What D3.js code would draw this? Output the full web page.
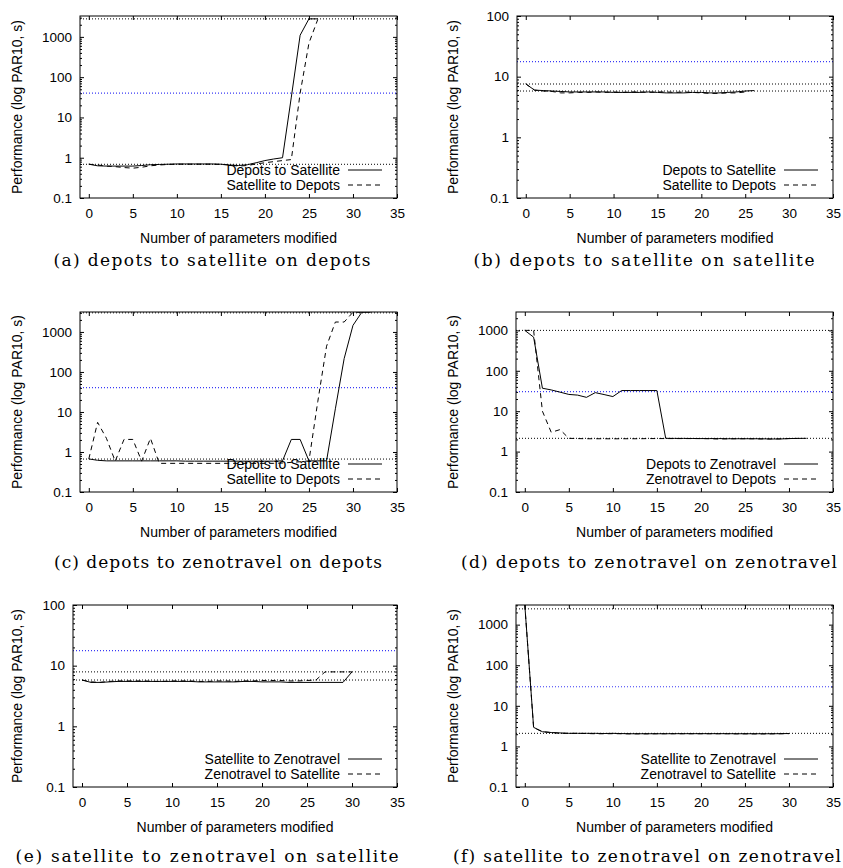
<!DOCTYPE html>
<html>
<head>
<meta charset="utf-8">
<script src="https://cdn.jsdelivr.net/npm/d3@7"></script>
<style>
body{margin:0;background:#fff}
svg text{font-family:"Liberation Sans",Arial,Helvetica,sans-serif;fill:#000}
svg text.cap{font-family:"DejaVu Serif","Liberation Serif",serif}
</style>
</head>
<body>
<svg id="fig" width="843" height="868"></svg>
<script>
// ── Axes ────────────────────────────────────────────────────────────────
var X_TICKS=[0,5,10,15,20,25,30,35];
var Y_TICKS=[0.1,1,10,100,1000];
var Y_TICK_LABELS=["0.1","1","10","100","1000"];
var X_LABEL="Number of parameters modified";
var Y_LABEL="Performance (log PAR10, s)";

// ── (a) depots to satellite on depots ───────────────────────────────────
var A_SOLID=[0.69,0.63,0.62,0.62,0.62,0.62,0.64,0.67,0.68,0.69,0.70,0.70,0.70,0.70,0.70,0.69,0.66,0.64,0.67,0.75,0.85,0.93,1.0,32,1100,2800,2800];
var A_DASH=[0.69,0.66,0.62,0.60,0.57,0.55,0.58,0.63,0.66,0.68,0.69,0.69,0.69,0.69,0.69,0.68,0.66,0.62,0.64,0.70,0.75,0.80,0.85,0.90,40,700,2700];
var A_REF=[2800,0.687];
var A_BLUE=40;
var A_LEG=["Depots to Satellite","Satellite to Depots"];

// ── (b) depots to satellite on satellite ────────────────────────────────
var B_SOLID=[7.6,6.0,5.9,5.8,5.7,5.6,5.6,5.6,5.6,5.6,5.5,5.5,5.5,5.5,5.6,5.5,5.4,5.4,5.4,5.5,5.5,5.4,5.4,5.5,5.6,5.8,5.9];
var B_DASH=[7.6,6.0,5.8,5.7,5.4,5.4,5.5,5.5,5.6,5.5,5.6,5.5,5.6,5.6,5.5,5.6,5.6,5.5,5.6,5.5,5.4,5.3,5.3,5.4,5.4,5.6];
var B_REF=[7.57,5.8];
var B_BLUE=17.7;
var B_LEG=["Depots to Satellite","Satellite to Depots"];

// ── (c) depots to zenotravel on depots ──────────────────────────────────
var C_SOLID=[0.67,0.62,0.60,0.60,0.60,0.60,0.60,0.60,0.60,0.60,0.60,0.59,0.59,0.59,0.59,0.59,0.59,0.59,0.59,0.59,0.59,0.59,0.60,2.06,2.06,0.60,0.60,0.60,12,216,1460,3100,3100];
var C_DASH=[0.67,5.5,2.2,0.59,2.06,2.06,0.59,2.2,0.52,0.52,0.52,0.52,0.52,0.52,0.52,0.52,0.52,0.52,0.52,0.52,0.52,0.52,0.53,0.55,0.57,0.60,18,440,1770,1770,3100,3100];
var C_REF=[3000,0.666];
var C_BLUE=40.8;
var C_LEG=["Depots to Satellite","Satellite to Depots"];

// ── (d) depots to zenotravel on zenotravel ──────────────────────────────
var D_SOLID=[1000,680,37,33.6,29.6,26,25,22,28.8,25.8,23,32.4,32.4,32.4,32.4,32.4,2.13,2.12,2.12,2.11,2.1,2.1,2.1,2.08,2.08,2.08,2.08,2.07,2.05,2.05,2.1,2.12,2.13];
var D_DASH=[1000,1000,10,3.0,3.5,2.13,2.1,2.08,2.08,2.08,2.07,2.08,2.08,2.08,2.1,2.1,2.1,2.1,2.1,2.1,2.1,2.08,2.05,2.07,2.08,2.08,2.07,2.05,2.05,2.07,2.1,2.12];
var D_REF=[1000,2.13];
var D_BLUE=30.6;
var D_LEG=["Depots to Zenotravel","Zenotravel to Depots"];

// ── (e) satellite to zenotravel on satellite ────────────────────────────
var E_SOLID=[5.8,5.3,5.3,5.4,5.5,5.5,5.5,5.5,5.5,5.5,5.5,5.5,5.5,5.4,5.4,5.4,5.4,5.4,5.5,5.5,5.4,5.4,5.4,5.3,5.3,5.3,5.3,5.3,5.3,5.3,7.9];
var E_DASH=[5.8,5.4,5.3,5.5,5.6,5.6,5.6,5.6,5.5,5.5,5.6,5.6,5.6,5.5,5.5,5.6,5.6,5.5,5.6,5.6,5.7,5.7,5.7,5.6,5.6,5.7,5.8,7.9,7.9,7.9,7.9];
var E_REF=[7.9,5.8];
var E_BLUE=17.7;
var E_LEG=["Satellite to Zenotravel","Zenotravel to Satellite"];

// ── (f) satellite to zenotravel on zenotravel ───────────────────────────
var F_SOLID=[3050,2.95,2.3,2.2,2.15,2.1,2.1,2.1,2.1,2.08,2.1,2.07,2.05,2.05,2.05,2.05,2.05,2.06,2.06,2.06,2.06,2.06,2.06,2.06,2.05,2.05,2.05,2.05,2.05,2.06,2.08];
var F_DASH=[3050,2.9,2.3,2.2,2.1,2.1,2.1,2.08,2.05,2.05,2.06,2.05,2.04,2.04,2.04,2.05,2.05,2.05,2.05,2.05,2.05,2.05,2.05,2.05,2.04,2.04,2.03,2.03,2.04,2.05,2.06];
var F_REF=[2450,2.1];
var F_BLUE=29.5;
var F_LEG=["Satellite to Zenotravel","Zenotravel to Satellite"];

var CAPTIONS=["(a) depots to satellite on depots","(b) depots to satellite on satellite",
  "(c) depots to zenotravel on depots","(d) depots to zenotravel on zenotravel",
  "(e) satellite to zenotravel on satellite","(f) satellite to zenotravel on zenotravel"];

// ── Mise en page des six cadres ─────────────────────────────────────────
// box = [gauche, haut, droite, bas] ; cap = [centre x, ligne de base, largeur]
var PANELS=[
  {box:[80,16,397,198],  yMax:3300,solid:A_SOLID,dash:A_DASH,ref:A_REF,blue:A_BLUE,leg:A_LEG,cap:[212,266,317],ylx:17},
  {box:[517,16,833,198], yMax:100, solid:B_SOLID,dash:B_DASH,ref:B_REF,blue:B_BLUE,leg:B_LEG,cap:[644,266,341],ylx:453},
  {box:[80,312,397,492], yMax:3150,solid:C_SOLID,dash:C_DASH,ref:C_REF,blue:C_BLUE,leg:C_LEG,cap:[218,568,328],ylx:17},
  {box:[516,312,833,492],yMax:2850,solid:D_SOLID,dash:D_DASH,ref:D_REF,blue:D_BLUE,leg:D_LEG,cap:[649,568,376],ylx:453},
  {box:[73,605,397,787], yMax:100, solid:E_SOLID,dash:E_DASH,ref:E_REF,blue:E_BLUE,leg:E_LEG,cap:[207,862,383],ylx:17},
  {box:[516,605,833,787],yMax:3050,solid:F_SOLID,dash:F_DASH,ref:F_REF,blue:F_BLUE,leg:F_LEG,cap:[647,862,388],ylx:453}
];

var svg=d3.select("#fig");

function minorTicks(yMax){
  var out=[];
  Y_TICKS.forEach(function(d){
    for(var k=2;k<=9;k++){var v=d*k;if(v<yMax)out.push(v);}
  });
  return out;
}

PANELS.forEach(function(p,i){
  var L=p.box[0],T=p.box[1],R=p.box[2],B=p.box[3];
  var x=d3.scaleLinear().domain([-1,35]).range([L,R]);
  var y=d3.scaleLog().domain([0.1,p.yMax]).range([B,T]);
  var yt=Y_TICKS.filter(function(d){return d<=p.yMax*1.001;});
  var g=svg.append("g");

  var clipId="clip"+i;
  g.append("clipPath").attr("id",clipId).append("rect")
    .attr("x",L).attr("y",T).attr("width",R-L).attr("height",B-T);

  // graduations (vers l'intérieur, sur les quatre côtés)
  function fmtY(d){return Y_TICK_LABELS[Y_TICKS.indexOf(d)];}
  var ax;
  ax=g.append("g").attr("transform","translate("+L+",0)")
    .call(d3.axisLeft(y).tickValues(yt).tickFormat(fmtY).tickSizeInner(-4).tickSizeOuter(0).tickPadding(8));
  ax.select(".domain").remove();
  ax.selectAll("text").attr("font-size",13.5).attr("font-family","Liberation Sans, Arial, sans-serif");
  ax=g.append("g").attr("transform","translate("+L+",0)")
    .call(d3.axisLeft(y).tickValues(minorTicks(p.yMax)).tickFormat("").tickSizeInner(-2).tickSizeOuter(0));
  ax.select(".domain").remove();
  ax=g.append("g").attr("transform","translate("+R+",0)")
    .call(d3.axisRight(y).tickValues(yt).tickFormat("").tickSizeInner(-4).tickSizeOuter(0));
  ax.select(".domain").remove();
  ax=g.append("g").attr("transform","translate("+R+",0)")
    .call(d3.axisRight(y).tickValues(minorTicks(p.yMax)).tickFormat("").tickSizeInner(-2).tickSizeOuter(0));
  ax.select(".domain").remove();
  ax=g.append("g").attr("transform","translate(0,"+B+")")
    .call(d3.axisBottom(x).tickValues(X_TICKS).tickFormat(d3.format("d")).tickSizeInner(-4).tickSizeOuter(0).tickPadding(10));
  ax.select(".domain").remove();
  ax.selectAll("text").attr("font-size",13.5).attr("font-family","Liberation Sans, Arial, sans-serif").attr("dy","0.71em");
  ax=g.append("g").attr("transform","translate(0,"+T+")")
    .call(d3.axisTop(x).tickValues(X_TICKS).tickFormat("").tickSizeInner(-4).tickSizeOuter(0));
  ax.select(".domain").remove();
  g.selectAll(".tick line").attr("stroke","#000").attr("stroke-width",1);

  // lignes de référence pointillées
  var plot=g.append("g").attr("clip-path","url(#"+clipId+")");
  p.ref.forEach(function(v){
    plot.append("line").attr("x1",L).attr("x2",R).attr("y1",y(v)).attr("y2",y(v))
      .attr("stroke","#000").attr("stroke-width",1).attr("stroke-dasharray","1,2");
  });
  plot.append("line").attr("x1",L).attr("x2",R).attr("y1",y(p.blue)).attr("y2",y(p.blue))
    .attr("stroke","#3a3af5").attr("stroke-width",1.2).attr("stroke-dasharray","1,2");

  // séries
  var line=d3.line().x(function(d,j){return x(j);}).y(function(d){return y(d);});
  plot.append("path").datum(p.solid).attr("d",line)
    .attr("fill","none").attr("stroke","#000").attr("stroke-width",1);
  plot.append("path").datum(p.dash).attr("d",line)
    .attr("fill","none").attr("stroke","#000").attr("stroke-width",1).attr("stroke-dasharray","5,4");

  // cadre
  g.append("rect").attr("x",L).attr("y",T).attr("width",R-L).attr("height",B-T)
    .attr("fill","none").attr("stroke","#000").attr("stroke-width",1);

  // légende
  [0,1].forEach(function(k){
    var ly=B-28+15*k;
    g.append("text").attr("x",R-57).attr("y",ly).attr("dy","0.35em")
      .attr("text-anchor","end").attr("font-size",14).text(p.leg[k]);
    g.append("line").attr("x1",R-49).attr("x2",R-15).attr("y1",ly).attr("y2",ly)
      .attr("stroke","#000").attr("stroke-width",1).attr("stroke-dasharray",k?"5,4":null);
  });

  // titres d'axes
  g.append("text").attr("x",(L+R)/2).attr("y",B+40).attr("dy","0.35em")
    .attr("text-anchor","middle").attr("font-size",14).text(X_LABEL);
  g.append("text").attr("transform","translate("+p.ylx+","+((T+B)/2)+") rotate(-90)")
    .attr("dy","0.35em").attr("text-anchor","middle").attr("font-size",14).text(Y_LABEL);

  // légende de sous-figure
  g.append("text").attr("class","cap").attr("x",p.cap[0]).attr("y",p.cap[1])
    .attr("text-anchor","middle").attr("font-size",17)
    .attr("textLength",p.cap[2]).attr("lengthAdjust","spacing").text(CAPTIONS[i]);
});
</script>
</body>
</html>
